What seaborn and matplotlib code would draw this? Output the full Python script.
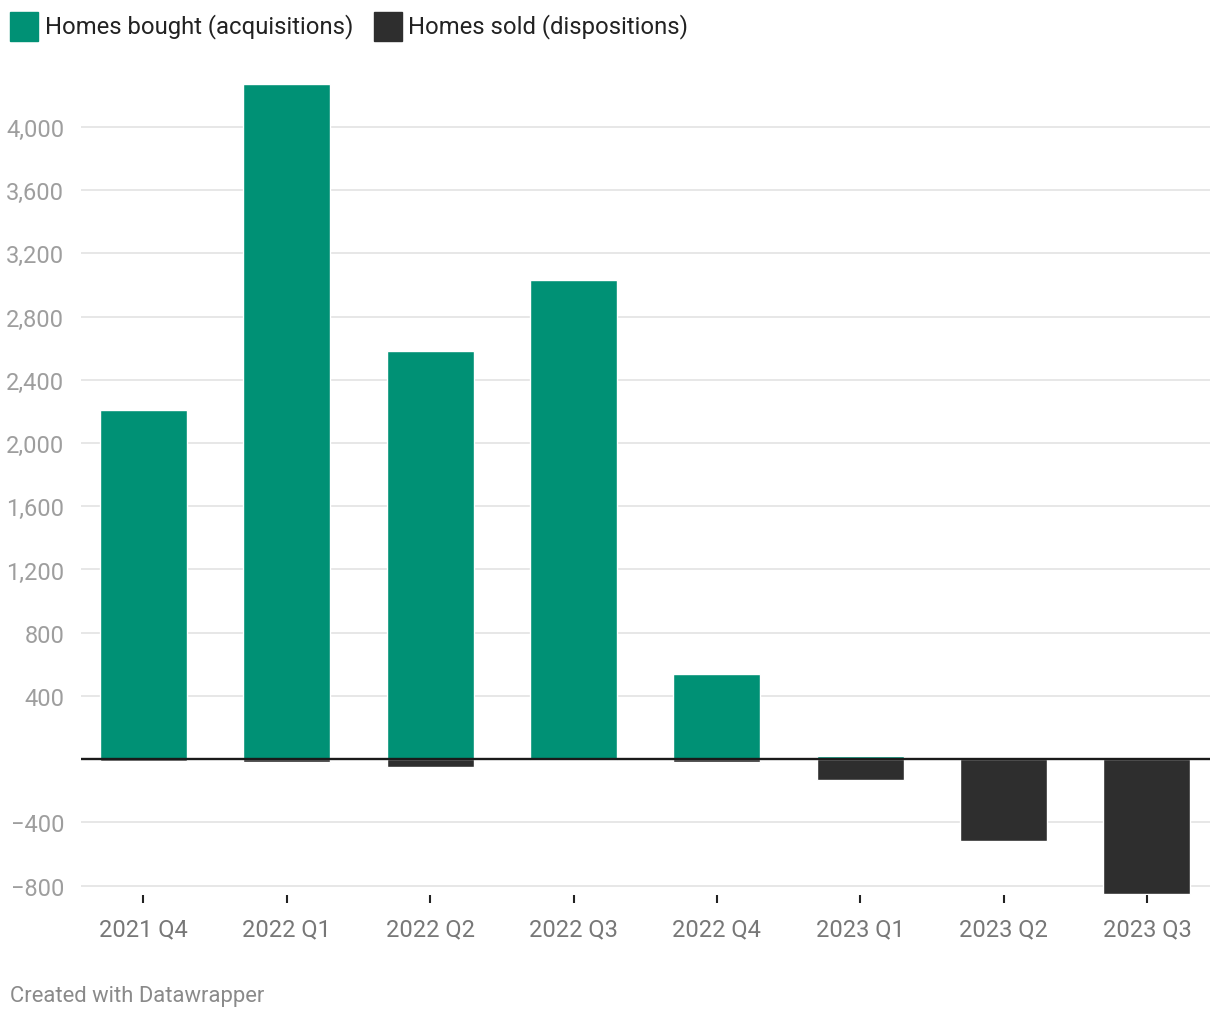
import matplotlib
matplotlib.use("Agg")
import matplotlib.pyplot as plt
import seaborn as sns
import pandas as pd
from matplotlib.patches import Rectangle
from matplotlib.ticker import FuncFormatter

quarters = ["2021 Q4", "2022 Q1", "2022 Q2", "2022 Q3", "2022 Q4", "2023 Q1", "2023 Q2", "2023 Q3"]
bought = [2210, 4272, 2582, 3032, 538, 19, 0, 0]
sold = [-12, -20, -50, -3, -20, -133, -518, -854]
series_names = ["Homes bought (acquisitions)", "Homes sold (dispositions)"]
colors = ["#009175", "#2e2e2e"]
yticks = [-800, -400, 400, 800, 1200, 1600, 2000, 2400, 2800, 3200, 3600, 4000]

df = pd.DataFrame({
    "quarter": quarters * 2,
    "value": bought + sold,
    "series": [series_names[0]] * len(quarters) + [series_names[1]] * len(quarters),
})

sns.set_theme(style="white")
plt.rcParams["font.family"] = ["Roboto", "DejaVu Sans"]

fig = plt.figure(figsize=(12.2, 10.2), dpi=100)
ax = fig.add_axes([81 / 1220, 124 / 1020, 1129 / 1220, (939.4 - 124) / 1020])

sns.barplot(data=df, x="quarter", y="value", hue="series", order=quarters,
            hue_order=series_names, palette=colors, dodge=False, width=0.607,
            saturation=1, legend=False, ax=ax, zorder=2)

ax.set_xlim(-0.436, 7.44)
ax.set_ylim(-860, 4300)
ax.set_yticks(yticks)
ax.yaxis.set_major_formatter(FuncFormatter(lambda v, p: f"{v:,.0f}".replace("-", "\u2212")))
ax.grid(axis="y", color="#e3e3e3", linewidth=1.2, zorder=0)
ax.set_axisbelow(True)
ax.axhline(0, color="#1a1a1a", linewidth=1.7, zorder=3)
for s in ax.spines.values():
    s.set_visible(False)
ax.set_xlabel("")
ax.set_ylabel("")
ax.tick_params(axis="y", length=0, pad=12, labelsize=17, labelcolor="#9e9e9e")
ax.tick_params(axis="x", bottom=True, length=6, width=1.5, color="#222222", pad=10,
               labelsize=17, labelcolor="#777777")

# legend
fig.add_artist(Rectangle((10 / 1220, 1 - 42 / 1020), 28 / 1220, 29 / 1020,
                         transform=fig.transFigure, color=colors[0]))
fig.text(45 / 1220, 1 - 27 / 1020, series_names[0], fontsize=17.2, color="#222222",
         va="center", ha="left")
fig.add_artist(Rectangle((374 / 1220, 1 - 42 / 1020), 28 / 1220, 29 / 1020,
                         transform=fig.transFigure, color=colors[1]))
fig.text(408 / 1220, 1 - 27 / 1020, series_names[1], fontsize=17.2, color="#222222",
         va="center", ha="left")

fig.text(10 / 1220, 1 - 997 / 1020, "Created with Datawrapper", fontsize=15.8,
         color="#8a8a8a", va="center", ha="left")

fig.savefig("out.png", dpi=100, facecolor="white")
